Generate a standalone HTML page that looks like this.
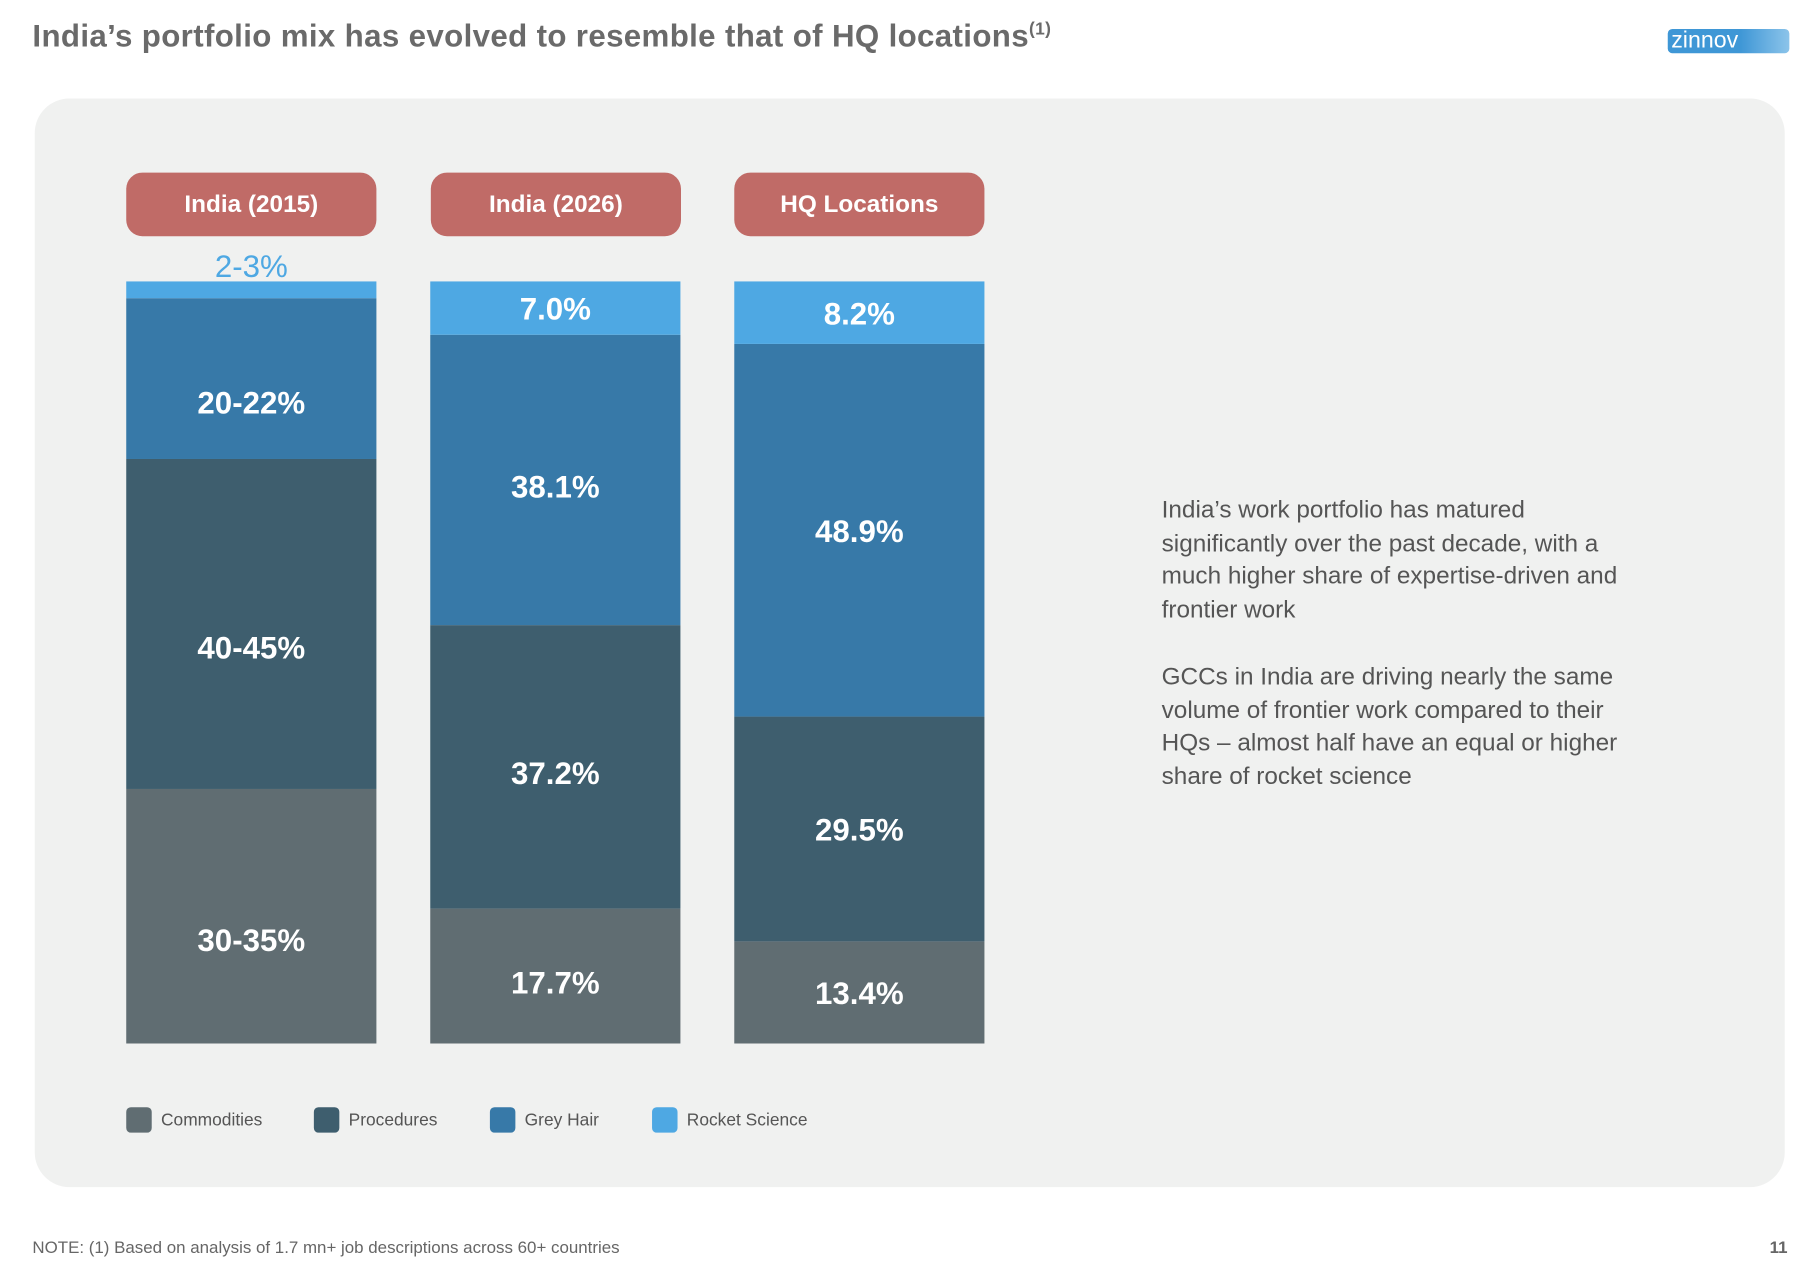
<!DOCTYPE html>
<html><head><meta charset="utf-8">
<style>
html,body{margin:0;padding:0;background:#fff;width:1816px;height:1280px;overflow:hidden}
#stage{position:absolute;left:0;top:0;width:1568px;height:1105px;transform:scale(1.15816);transform-origin:0 0;font-family:"Liberation Sans",sans-serif}
.abs{position:absolute}
.title{left:28px;top:16px;font-size:27px;font-weight:bold;color:#6a6a6a;letter-spacing:0.3px;white-space:nowrap}
.title sup{font-size:15px}
.logo{left:1440px;top:25px;width:105px;height:21px;border-radius:4px;background:linear-gradient(90deg,#3f97d6 60%,#8cc4ea);color:#fff;font-size:20px;line-height:21px;padding-left:3px;box-sizing:border-box}
.panel{left:30px;top:85px;width:1511px;height:940px;border-radius:30px;background:#f0f1f0}
.hdr{top:149px;width:216px;height:55px;border-radius:14px;background:#c06b67;color:#fff;font-weight:bold;font-size:21px;text-align:center;line-height:55px}
.rtext{left:1003px;width:425px;font-size:21px;line-height:28.7px;color:#555}
.legend{top:956px;font-size:15px;color:#555;display:flex;align-items:center;gap:8px}
.sw{width:22px;height:22px;border-radius:4px}
.note{left:28px;top:1070px;font-size:14.6px;color:#666}
</style></head><body>
<div id="stage">
<div class="abs title">India’s portfolio mix has evolved to resemble that of HQ locations<sup>(1)</sup></div>
<div class="abs logo">zinnov</div>
<div class="abs panel"></div>
<svg class="abs" id="chart" style="left:0;top:0" width="1568" height="1105"></svg>
<div class="abs hdr" style="left:109px">India (2015)</div>
<div class="abs hdr" style="left:372px">India (2026)</div>
<div class="abs hdr" style="left:634px">HQ Locations</div>
<div class="abs rtext" style="top:427px">India’s work portfolio has matured significantly over the past decade, with a much higher share of expertise-driven and frontier work</div>
<div class="abs rtext" style="top:571px">GCCs in India are driving nearly the same volume of frontier work compared to their HQs – almost half have an equal or higher share of rocket science</div>
<div class="abs legend" style="left:109px"><div class="sw" style="background:#606d72"></div>Commodities</div>
<div class="abs legend" style="left:271px"><div class="sw" style="background:#3e5e6e"></div>Procedures</div>
<div class="abs legend" style="left:423px"><div class="sw" style="background:#3779a8"></div>Grey Hair</div>
<div class="abs legend" style="left:563px"><div class="sw" style="background:#4ea8e3"></div>Rocket Science</div>
<div class="abs note">NOTE: (1) Based on analysis of 1.7 mn+ job descriptions across 60+ countries</div>
<div class="abs note" style="left:1528px;font-weight:bold">11</div>
</div>
<script>
const categories = ["India (2015)", "India (2026)", "HQ Locations"];
const commodities = [33.4, 17.7, 13.4];
const procedures = [43.3, 37.2, 29.5];
const greyHair = [21.1, 38.1, 48.9];
const rocketScience = [2.2, 7.0, 8.2];
const commLabels = ["30-35%", "17.7%", "13.4%"];
const procLabels = ["40-45%", "37.2%", "29.5%"];
const greyLabels = ["20-22%", "38.1%", "48.9%"];
const rocketLabels = ["2-3%", "7.0%", "8.2%"];

const svg = document.getElementById('chart');
const NS = 'http://www.w3.org/2000/svg';
const x0 = 109, step = 262.5, bw = 216, yBottom = 901, yTop = 243;
const labelShift = [20, 5, 0];
function xPos(i){ return x0 + i*step; }
function yScale(v){ return yBottom - v/100*(yBottom-yTop); }
const series = [
  {vals: commodities, labels: commLabels, color:'#606d72'},
  {vals: procedures, labels: procLabels, color:'#3e5e6e'},
  {vals: greyHair, labels: greyLabels, color:'#3779a8'},
  {vals: rocketScience, labels: rocketLabels, color:'#4ea8e3'}
];
categories.forEach((c, i) => {
  let total = 0;
  series.forEach(s => {
    const v = s.vals[i];
    const t = total + v;
    let yA = yScale(t), yB = yScale(total);
    const r = document.createElementNS(NS, 'rect');
    r.setAttribute('x', xPos(i)); r.setAttribute('y', yA);
    r.setAttribute('width', bw); r.setAttribute('height', yB - yA);
    r.setAttribute('fill', s.color);
    
    
    svg.appendChild(r);
    const tx = document.createElementNS(NS, 'text');
    tx.setAttribute('x', xPos(i) + bw/2);
    const small = (yB - yA) < 30;
    const shift = (yB - yA) > 100 ? labelShift[i] : 0;
    tx.setAttribute('y', small ? yA - 4 : (yA + yB)/2 + 10 + shift);
    tx.setAttribute('text-anchor', 'middle');
    tx.setAttribute('font-size', '27');
    tx.setAttribute('font-family', 'Liberation Sans, sans-serif');
    tx.setAttribute('fill', small ? '#4ea8e3' : '#fff');
    if (!small) tx.setAttribute('font-weight', 'bold');
    tx.textContent = s.labels[i];
    
    
    svg.appendChild(tx);
    total = t;
  });
});
</script>
</body></html>
